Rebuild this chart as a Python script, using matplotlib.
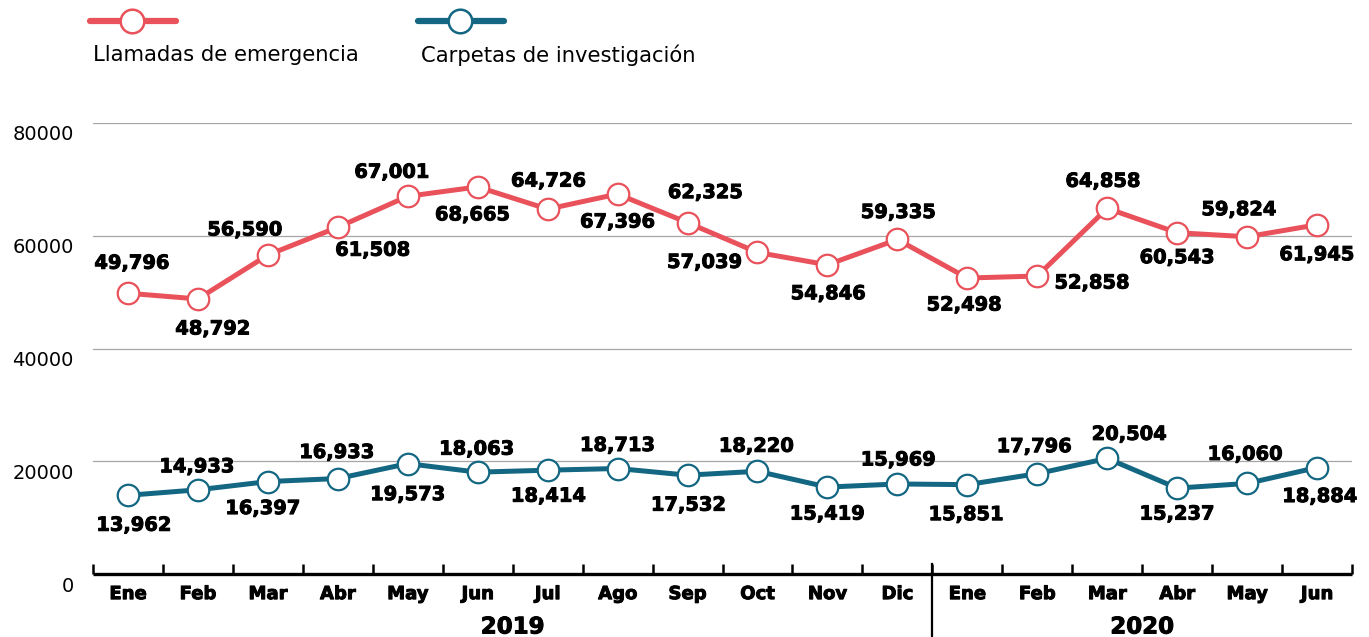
import matplotlib
matplotlib.use("Agg")
import matplotlib.pyplot as plt
import matplotlib.patheffects as pe
from matplotlib.lines import Line2D
from matplotlib.transforms import offset_copy

# data
months = ["Ene", "Feb", "Mar", "Abr", "May", "Jun", "Jul", "Ago", "Sep", "Oct", "Nov", "Dic",
          "Ene", "Feb", "Mar", "Abr", "May", "Jun"]
years = ["2019", "2020"]
llamadas = [49796, 48792, 56590, 61508, 67001, 68665, 64726, 67396, 62325, 57039, 54846, 59335,
            52498, 52858, 64858, 60543, 59824, 61945]
carpetas = [13962, 14933, 16397, 16933, 19573, 18063, 18414, 18713, 17532, 18220, 15419, 15969,
            15851, 17796, 20504, 15237, 16060, 18884]
yticks = [0, 20000, 40000, 60000, 80000]

# label placement (pixels, dx right / dy down)
off_red = [(4, -30), (15, 30), (-23, -25), (35, 23), (-16, -24), (-5, 28), (1, -28), (0, 28),
           (18, -30), (-53, 10), (1, 29), (1, -27), (-3, 27), (55, 7), (-4, -27), (0, 25),
           (-8, -27), (0, 30)]
off_blue = [(6, 30), (-1, -23), (-5, 27), (-1, -26), (0, 31), (-1, -23), (1, 26), (0, -23),
            (1, 30), (-1, -25), (0, 27), (1, -24), (-1, 30), (-3, -27), (22, -24), (0, 26),
            (-2, -29), (3, 29)]

RED = "#e9525b"
BLUE = "#146782"
heavy = [pe.withStroke(linewidth=0.7, foreground="black")]

fig = plt.figure(figsize=(13.69, 6.37), dpi=100)
ax = fig.add_axes([93 / 1369, 1 - 574 / 637, (1352 - 93) / 1369, (574 - 123) / 637])

x = list(range(len(months)))
for vals, col, offs in [(llamadas, RED, off_red), (carpetas, BLUE, off_blue)]:
    ax.plot(x, vals, color=col, lw=3.6, marker="o", ms=15.5, mfc="white", mec=col, mew=1.6,
            zorder=3, clip_on=False)
    for xi, v, (dx, dy) in zip(x, vals, offs):
        ax.annotate(f"{v:,}", (xi, v), xytext=(dx, -dy), textcoords="offset pixels",
                    ha="center", va="center", fontsize=14, fontweight="bold", color="black",
                    zorder=4, path_effects=heavy)

ax.set_xlim(-0.5, len(months) - 0.5)
ax.set_ylim(0, 80000)
for s in ["left", "right", "top"]:
    ax.spines[s].set_visible(False)
ax.spines["bottom"].set_linewidth(2.4)
ax.spines["bottom"].set_capstyle("butt")

ax.set_yticks(yticks)
ax.set_yticklabels([str(t) for t in yticks], fontsize=14)
ax.tick_params(axis="y", length=0, pad=14)
for lab in ax.get_yticklabels():
    lab.set_transform(offset_copy(lab.get_transform(), fig=fig, x=0, y=-10, units="dots"))
ax.grid(axis="y", color="#a6a6a6", lw=0.9)
ax.set_axisbelow(True)

ax.set_xticks([i - 0.5 for i in range(len(months) + 1)])
ax.set_xticklabels([])
ax.set_xticks(x, minor=True)
ax.set_xticklabels(months, minor=True, fontsize=13, fontweight="bold")
for lab in ax.get_xticklabels(minor=True):
    lab.set_path_effects(heavy)
ax.tick_params(axis="x", which="major", direction="in", length=7.5, width=1.8)
ax.tick_params(axis="x", which="minor", length=0, pad=8)

# year separator and year labels
ax.axvline(11.5, ymin=-0.15, ymax=0.022, color="black", lw=1.6, clip_on=False)
for i, yr in enumerate(years):
    xc = 5.5 if i == 0 else 14.5
    ax.annotate(yr, (xc, 0), xycoords=("data", "axes fraction"), xytext=(0, -53),
                textcoords="offset pixels", ha="center", va="center", fontsize=16.5,
                fontweight="bold", path_effects=heavy)

# legend: marker line above label
for x0, col, name in [(90, RED, "Llamadas de emergencia"), (418, BLUE, "Carpetas de investigación")]:
    fig.add_artist(Line2D([x0 / 1369, (x0 + 86) / 1369], [1 - 21 / 637] * 2, color=col, lw=4.5,
                          solid_capstyle="round", transform=fig.transFigure))
    fig.add_artist(Line2D([(x0 + 42) / 1369], [1 - 21 / 637], marker="o", ms=17, mfc="white",
                          mec=col, mew=1.8, transform=fig.transFigure))
    fig.text((x0 + 3) / 1369, 1 - 55 / 637, name, fontsize=15.2, ha="left", va="center")

fig.savefig("out.png", dpi=100)
